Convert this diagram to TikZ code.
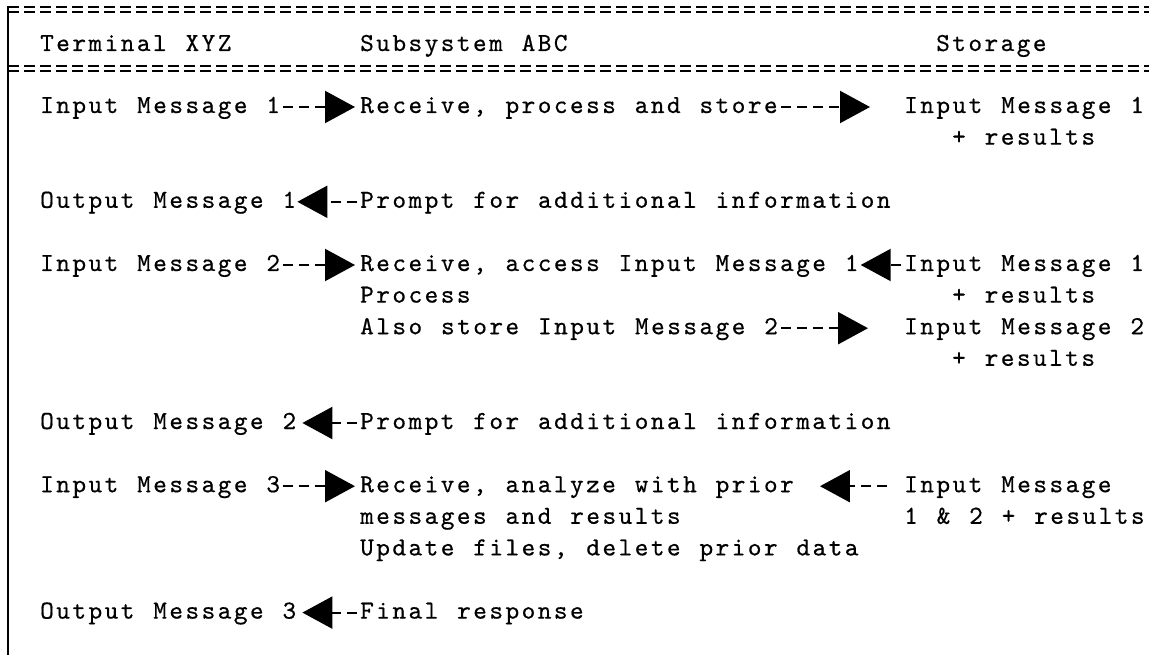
\documentclass[tikz,border=0pt]{standalone}
\usepackage{fontspec}
\usetikzlibrary{arrows.meta}
\newfontfamily\typewriter{lmmono10-regular.otf}[LetterSpace=9.5, WordSpace=1.17, FakeBold=0.5]

\begin{document}
\begin{tikzpicture}[x=1pt, y=-1pt,
  txt/.style={anchor=base west, inner sep=0pt, text height=18pt, text depth=6pt,
    font=\typewriter\fontsize{26}{31.6}\selectfont},
  flow/.style={line width=2.2pt, dash pattern=on 10pt off 6pt, dash phase=13pt,
    -{Triangle[length=30pt,width=32pt]}},
  eqrule/.style={line width=1.8pt, dash pattern=on 11pt off 5pt}]
\useasboundingbox (0,0) rectangle (1149,655);

% Frame and header rules
\draw[eqrule] (8,7) -- (1149,7);
\draw[eqrule] (8,12) -- (1149,12);
\draw[eqrule] (8,66) -- (1149,66);
\draw[eqrule] (8,71) -- (1149,71);
\draw[line width=2pt] (8,6) -- (8,655);

\node[txt] (hdrterm) at (40,51) {Terminal XYZ};
\node[txt] (hdrsub) at (360,51) {Subsystem ABC};
\node[txt] (hdrstore) at (936,51) {Storage};

% First input
\node[txt] (inmsg1) at (40,113) {Input Message 1};
\node[txt] (recv1) at (360,113) {Receive, process and store};
\node[txt] (store1) at (904,113) {Input Message 1};
\node[txt] (res1) at (952,144.6) {+ results};
\draw[flow, shorten >=5pt] (inmsg1) -- (recv1);
\draw[flow, shorten >=34pt] (recv1) -- (store1);

\node[txt] (outmsg1) at (40,207.8) {Output Message 1};
\node[txt] (prompt1) at (360,207.8) {Prompt for additional information};
\draw[flow, shorten >=1pt] (prompt1) -- (outmsg1);

% Second input
\node[txt] (inmsg2) at (40,271) {Input Message 2};
\node[txt] (recv2) at (360,271) {Receive, access Input Message 1};
\node[txt] (store1b) at (904,271) {Input Message 1};
\node[txt] (proc2) at (360,302.6) {Process};
\node[txt] (res1b) at (952,302.6) {+ results};
\node[txt] (also2) at (360,334.2) {Also store Input Message 2};
\node[txt] (store2) at (904,334.2) {Input Message 2};
\node[txt] (res2) at (952,365.8) {+ results};
\draw[flow, shorten >=5pt] (inmsg2) -- (recv2);
\draw[flow, shorten >=2pt] (store1b) -- (recv2);
\draw[flow, shorten >=36pt] (also2) -- (store2);

\node[txt] (outmsg2) at (40,429) {Output Message 2};
\node[txt] (prompt2) at (360,429) {Prompt for additional information};
\draw[flow, shorten >=6pt] (prompt2) -- (outmsg2);

% Third input
\node[txt] (inmsg3) at (40,492.2) {Input Message 3};
\node[txt] (recv3) at (360,492.2) {Receive, analyze with prior};
\node[txt] (store3) at (904,492.2) {Input Message};
\node[txt] (msgs3) at (360,523.8) {messages and results};
\node[txt] (res3) at (904,523.8) {1 \& 2 + results};
\node[txt] (upd3) at (360,555.4) {Update files, delete prior data};
\draw[flow, shorten >=5pt] (inmsg3) -- (recv3);
\draw[flow, shorten <=14pt, shorten >=26pt] (store3) -- (recv3);

\node[txt] (outmsg3) at (40,618.6) {Output Message 3};
\node[txt] (final3) at (360,618.6) {Final response};
\draw[flow, shorten >=6pt] (final3) -- (outmsg3);
\end{tikzpicture}
\end{document}
